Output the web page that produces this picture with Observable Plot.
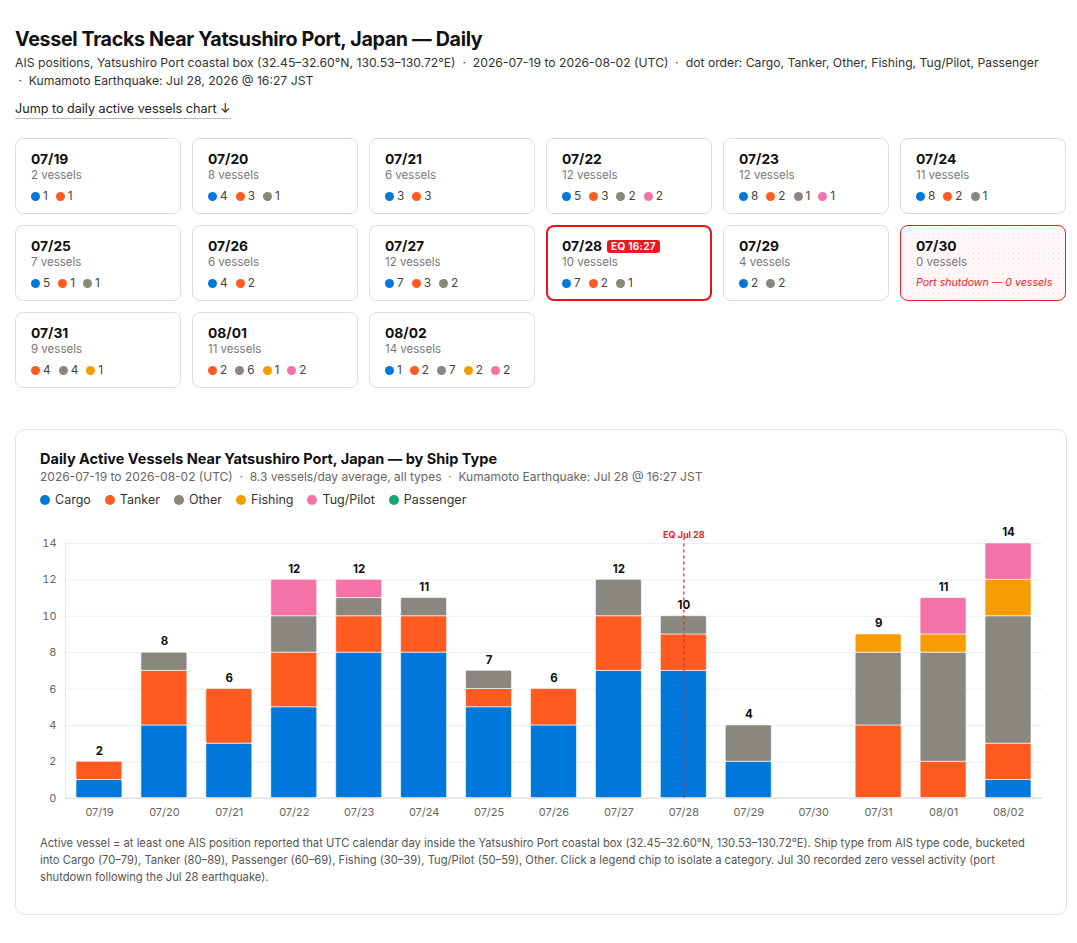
<!DOCTYPE html>
<html>
<head>
<meta charset="utf-8">
<script src="https://cdn.jsdelivr.net/npm/d3@7"></script>
<script src="https://cdn.jsdelivr.net/npm/@observablehq/plot@0.6"></script>
<style>
  * { box-sizing: border-box; }
  body { margin: 0; background: #fff; font-family: Inter, "Noto Sans", "Liberation Sans", sans-serif; color: #111; }
  .page { padding: 23px 11px 20px 15px; }
  h1 { font-size: 19.7px; font-weight: 700; margin: 4px 0 3px 0; letter-spacing: -0.35px; }
  .sub { font-size: 12.2px; color: #333; line-height: 18px; white-space: nowrap; }
  .jump { display: inline-block; margin-top: 11px; font-size: 12.6px; color: #222; border-bottom: 1px solid #bbb; padding-bottom: 2px; }
  .grid { display: grid; grid-template-columns: repeat(6, 166px); gap: 11px; margin-top: 19px; }
  .card { border: 1px solid #ddd; border-radius: 8px; padding: 12px 8px 10px 15px; height: 76px; background: #fff; }
  .card.eq { border: 2px solid #e8141a; padding: 11px 7px 9px 14px; }
  .card.shut { border: 1px solid #f01a20; background-color: #fff7f7;
    background-image: radial-gradient(#f3dede 0.6px, transparent 0.8px); background-size: 5px 5px; }
  .date { font-size: 13.8px; font-weight: 700; line-height: 17px; display: flex; align-items: center; gap: 5px; }
  .badge { background: #ea1a20; color: #fff; font-size: 10px; font-weight: 700; border-radius: 3px; padding: 0 4px; line-height: 13px; letter-spacing: 0.3px; }
  .count { font-size: 11.5px; color: #777; line-height: 14px; }
  .dots { margin-top: 7px; font-size: 11.8px; color: #444; display: flex; gap: 8px; align-items: center; }
  .dots span { display: inline-flex; align-items: center; gap: 3px; }
  .dot { width: 9px; height: 9px; border-radius: 50%; display: inline-block; }
  .shutmsg { margin-top: 7px; font-size: 10.6px; color: #ee1c22; font-style: italic; white-space: nowrap; }
  .chartcard { margin-top: 41px; border: 1px solid #e2e2e2; border-radius: 10px; padding: 20px 24px 28px 24px; width: 1052px; }
  .ctitle { font-size: 14.5px; font-weight: 700; line-height: 18px; }
  .csub { font-size: 12px; color: #666; margin-top: 1px; line-height: 16px; }
  .legend { display: flex; gap: 14px; margin-top: 7px; font-size: 12.5px; color: #333; }
  .legend span { display: inline-flex; align-items: center; gap: 5px; cursor: pointer; }
  .legend .dot { width: 10px; height: 10px; }
  .note { font-size: 11.2px; color: #555; line-height: 17px; margin-top: 8px; }
  #chart svg { overflow: visible; display: block; }
</style>
</head>
<body>
<div class="page">
  <h1>Vessel Tracks Near Yatsushiro Port, Japan — Daily</h1>
  <div class="sub">AIS positions, Yatsushiro Port coastal box (32.45–32.60°N, 130.53–130.72°E) &nbsp;·&nbsp; 2026-07-19 to 2026-08-02 (UTC) &nbsp;·&nbsp; dot order: Cargo, Tanker, Other, Fishing, Tug/Pilot, Passenger<br>&nbsp;·&nbsp; Kumamoto Earthquake: Jul 28, 2026 @ 16:27 JST</div>
  <div class="jump">Jump to daily active vessels chart ↓</div>
  <div class="grid" id="cards"></div>
  <div class="chartcard">
    <div class="ctitle">Daily Active Vessels Near Yatsushiro Port, Japan — by Ship Type</div>
    <div class="csub">2026-07-19 to 2026-08-02 (UTC) &nbsp;·&nbsp; 8.3 vessels/day average, all types &nbsp;·&nbsp; Kumamoto Earthquake: Jul 28 @ 16:27 JST</div>
    <div class="legend" id="legend"></div>
    <div id="chart" style="margin-top:16px"></div>
    <div class="note">Active vessel = at least one AIS position reported that UTC calendar day inside the Yatsushiro Port coastal box (32.45–32.60°N, 130.53–130.72°E). Ship type from AIS type code, bucketed into Cargo (70–79), Tanker (80–89), Passenger (60–69), Fishing (30–39), Tug/Pilot (50–59), Other. Click a legend chip to isolate a category. Jul 30 recorded zero vessel activity (port shutdown following the Jul 28 earthquake).</div>
  </div>
</div>
<script>
const dates = ["07/19","07/20","07/21","07/22","07/23","07/24","07/25","07/26","07/27","07/28","07/29","07/30","07/31","08/01","08/02"];
const types = ["Cargo","Tanker","Other","Fishing","Tug/Pilot","Passenger"];
const typeColors = ["#0078db","#ff5a1f","#8a8780","#f79c00","#f472a6","#12a86f"];
const cargo     = [1,4,3,5,8,8,5,4,7,7,2,0,0,0,1];
const tanker    = [1,3,3,3,2,2,1,2,3,2,0,0,4,2,2];
const other     = [0,1,0,2,1,1,1,0,2,1,2,0,4,6,7];
const fishing   = [0,0,0,0,0,0,0,0,0,0,0,0,1,1,2];
const tugPilot  = [0,0,0,2,1,0,0,0,0,0,0,0,0,2,2];
const passenger = [0,0,0,0,0,0,0,0,0,0,0,0,0,0,0];
const eqDate = "07/28";
const eqBadge = "EQ 16:27";
const shutdownDate = "07/30";
const yTicks = [0,2,4,6,8,10,12,14];

const series = [cargo, tanker, other, fishing, tugPilot, passenger];
const totals = dates.map((d, i) => series.reduce((s, arr) => s + arr[i], 0));

// cards
const cardsEl = document.getElementById("cards");
dates.forEach((d, i) => {
  const c = document.createElement("div");
  c.className = "card" + (d === eqDate ? " eq" : "") + (d === shutdownDate ? " shut" : "");
  let html = `<div class="date">${d}${d === eqDate ? `<span class="badge">${eqBadge}</span>` : ""}</div>`;
  html += `<div class="count">${totals[i]} vessels</div>`;
  if (d === shutdownDate) {
    html += `<div class="shutmsg">Port shutdown — 0 vessels</div>`;
  } else {
    html += `<div class="dots">` + types.map((t, k) => series[k][i] > 0 ?
      `<span><i class="dot" style="background:${typeColors[k]}"></i>${series[k][i]}</span>` : "").join("") + `</div>`;
  }
  c.innerHTML = html;
  cardsEl.appendChild(c);
});

// legend
const legendEl = document.getElementById("legend");
types.forEach((t, k) => {
  const s = document.createElement("span");
  s.innerHTML = `<i class="dot" style="background:${typeColors[k]}"></i>${t}`;
  legendEl.appendChild(s);
});

// chart data
const rows = [];
dates.forEach((d, i) => types.forEach((t, k) => rows.push({date: d, type: t, value: series[k][i]})));
const totalRows = dates.map((d, i) => ({date: d, total: totals[i]})).filter(r => r.total > 0);

const chart = Plot.plot({
  width: 1003,
  height: 304,
  marginLeft: 25,
  marginRight: 0,
  marginTop: 20,
  marginBottom: 29,
  style: {fontFamily: "Inter, 'Noto Sans', sans-serif", fontSize: "11px", color: "#666", background: "transparent"},
  x: {domain: dates, paddingInner: 0.29, paddingOuter: 0.15, label: null, tickSize: 0, tickPadding: 10},
  y: {domain: [0, 14], ticks: yTicks, label: null, tickSize: 0, tickPadding: 9},
  color: {domain: types, range: typeColors},
  marks: [
    Plot.gridY(yTicks, {stroke: "#eeeeee", strokeOpacity: 1}),
    Plot.frame({anchor: "left", stroke: "#eaeaea"}),
    Plot.barY(rows, Plot.stackY({order: types}, {x: "date", y: "value", fill: "type", rx: 1.5, stroke: "white", strokeWidth: 0.6})),
    Plot.ruleY([0], {stroke: "#e2e2e2", strokeWidth: 1.5}),
    Plot.text(totalRows, {x: "date", y: "total", text: d => String(d.total), dy: -11, fontWeight: 700, fontSize: 11.5, fill: "#111"}),
    Plot.ruleX([eqDate], {y1: 14.3, y2: 0, stroke: "#ee1c22", strokeDasharray: "3,3", strokeWidth: 1.2}),
    Plot.text([eqDate], {x: d => d, y: 14, text: () => "EQ Jul 28", dy: -8, fill: "#ee1c22", fontWeight: 700, fontSize: 9})
  ]
});
document.getElementById("chart").appendChild(chart);
</script>
</body>
</html>
